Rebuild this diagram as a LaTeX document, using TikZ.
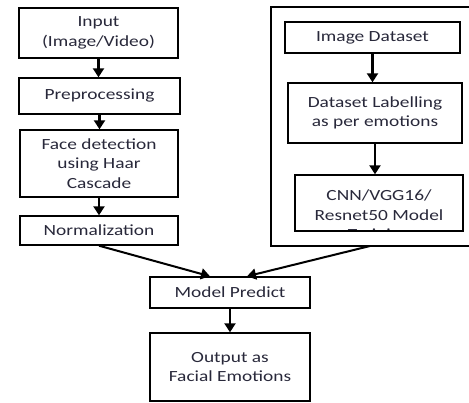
\documentclass[tikz,border=0pt]{standalone}
\usepackage{fontspec}
\setmainfont{Carlito}[FakeStretch=1.25]
\usetikzlibrary{arrows.meta}
\definecolor{txt}{RGB}{40,40,58}

\begin{document}
\begin{tikzpicture}[x=1pt, y=-1pt,
  every node/.style={font=\fontsize{15.5}{19.5}\selectfont, text=txt, align=center},
  stage/.style={draw, line width=1.4pt, inner sep=0pt},
  flow/.style={line width=2.4pt, -{Triangle[width=11pt,length=9pt]}},
  merge/.style={line width=2pt, -{Triangle[width=11pt,length=9pt]}}]

\useasboundingbox (0,0) rectangle (469,403);
\clip (0,0) rectangle (469,403);

% left column: the prediction pipeline
\node[stage, minimum width=159pt, minimum height=50pt] (input) at (98.5,33) {Input\\(Image/Video)};
\node[stage, minimum width=161pt, minimum height=36pt] (preproc) at (99.5,96) {Preprocessing};
\node[stage, minimum width=158pt, minimum height=67pt] (facedet) at (99,163.5) {Face detection\\using Haar\\Cascade};
\node[stage, minimum width=158pt, minimum height=29pt] (norm) at (99,230.5) {Normalization};

\draw[flow] (input) -- (input |- preproc.north);
\draw[flow] (preproc) -- (preproc |- facedet.north);
\draw[flow] (facedet) -- (facedet |- norm.north);

% right group: training the model
\draw[line width=1.4pt] (271,7) rectangle (474,246);
\coordinate (group) at (370,246);
\node[stage, minimum width=175pt, minimum height=31pt] (dataset) at (372.5,37.5) {Image Dataset};
\node[stage, minimum width=174pt, minimum height=60pt] (labelling) at (375,113) {Dataset Labelling\\as per emotions};
\node[stage, minimum width=168pt, minimum height=56pt,
  path picture={\node at ([yshift=-13pt]path picture bounding box.center) {CNN/VGG16/\\Resnet50 Model\\Training};}]
  (cnn) at (379,203) {};

\draw[flow] (dataset) -- (dataset |- labelling.north);
\draw[flow] (labelling) -- (labelling |- cnn.north);

% bottom: prediction and output
\node[stage, minimum width=160pt, minimum height=31pt] (predict) at (230,292.5) {Model Predict};
\node[stage, minimum width=160pt, minimum height=68pt] (output) at (230,367) {Output as\\Facial Emotions};

\draw[merge] (norm.south) -- ([xshift=-20pt]predict.north);
\draw[merge] (group) -- ([xshift=17pt]predict.north);
\draw[flow] (predict) -- (predict |- output.north);

\end{tikzpicture}
\end{document}
